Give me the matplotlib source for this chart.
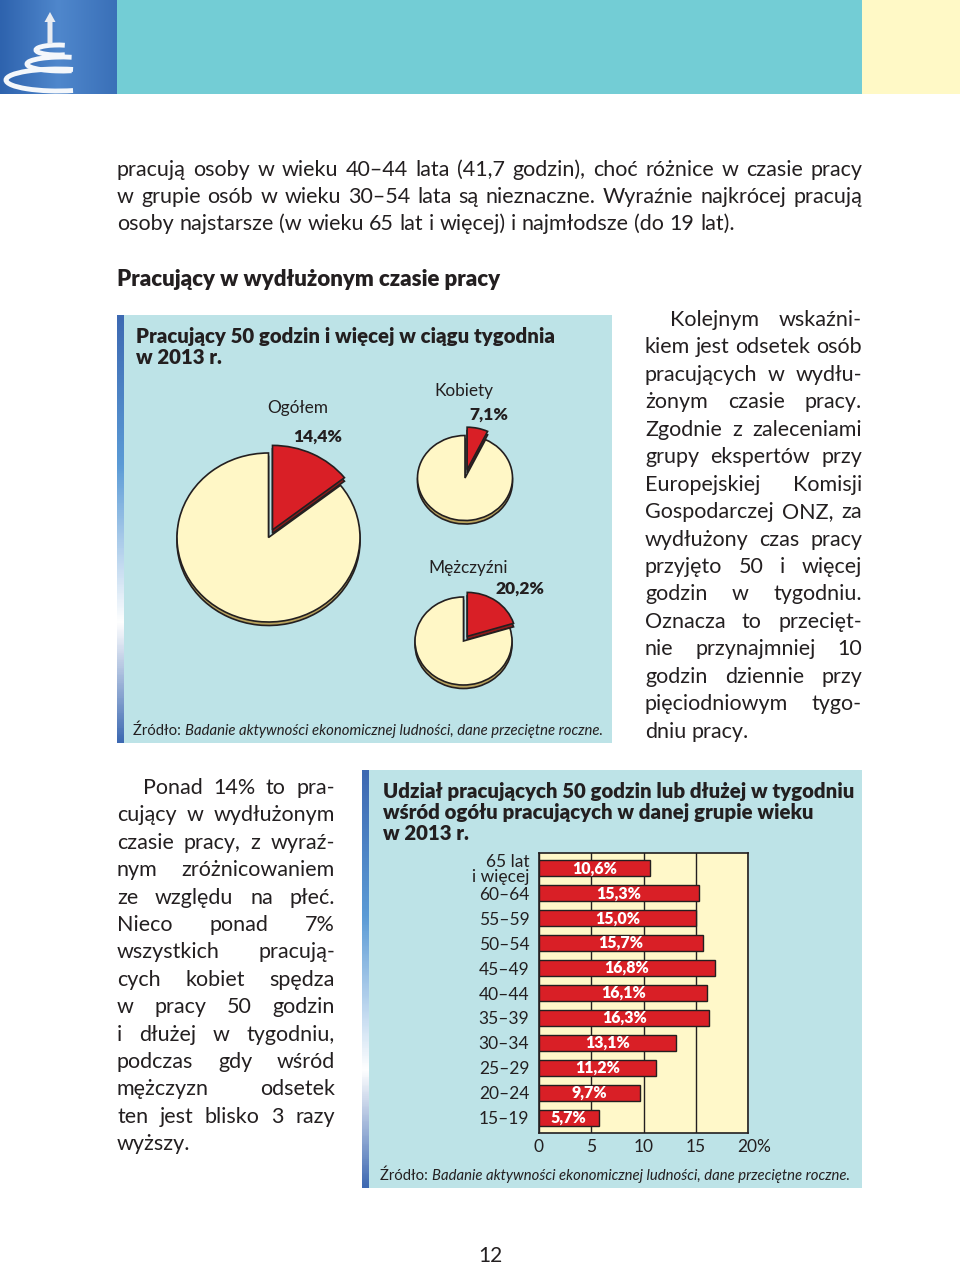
import numpy as np
import matplotlib
matplotlib.use('Agg')
import matplotlib.pyplot as plt
from matplotlib.patches import Rectangle, Arc, FancyArrow
from matplotlib.colors import LinearSegmentedColormap
from matplotlib.transforms import ScaledTranslation

W, H = 960, 1265
FONT = 'Lato'
BOLD = 'heavy'
INK = '#231F20'
RED = '#D91F26'
PALE = '#FFF7C6'
BOX = '#BDE3E7'

# --- data ---
pie_labels = ['Ogółem', 'Kobiety', 'Mężczyźni']
pie_shares = [14.4, 7.1, 20.2]

age_groups = ['65 lat\ni więcej', '60–64', '55–59', '50–54', '45–49', '40–44',
              '35–39', '30–34', '25–29', '20–24', '15–19']
long_hours_share = [10.6, 15.3, 15.0, 15.7, 16.8, 16.1, 16.3, 13.1, 11.2, 9.7, 5.7]
x_ticks = [0, 5, 10, 15, 20]
x_tick_labels = ['0', '5', '10', '15', '20%']

top_lines = [
    'pracują osoby w wieku 40–44 lata (41,7 godzin), choć różnice w czasie pracy',
    'w grupie osób w wieku 30–54 lata są nieznaczne. Wyraźnie najkrócej pracują',
    'osoby najstarsze (w wieku 65 lat i więcej) i najmłodsze (do 19 lat).',
]
right_lines = [
    'Kolejnym wskaźni-', 'kiem jest odsetek osób', 'pracujących w wydłu-',
    'żonym czasie pracy.', 'Zgodnie z zaleceniami', 'grupy ekspertów przy',
    'Europejskiej Komisji', 'Gospodarczej ONZ, za', 'wydłużony czas pracy',
    'przyjęto 50 i więcej', 'godzin w tygodniu.', 'Oznacza to przecięt-',
    'nie przynajmniej 10', 'godzin dziennie przy', 'pięciodniowym tygo-',
    'dniu pracy.',
]
left_lines = [
    'Ponad 14% to pra-', 'cujący w wydłużonym', 'czasie pracy, z wyraź-',
    'nym zróżnicowaniem', 'ze względu na płeć.', 'Nieco ponad 7%',
    'wszystkich pracują-', 'cych kobiet spędza', 'w pracy 50 godzin',
    'i dłużej w tygodniu,', 'podczas gdy wśród', 'mężczyzn odsetek',
    'ten jest blisko 3 razy', 'wyższy.',
]
heading = 'Pracujący w wydłużonym czasie pracy'
pie_title = ['Pracujący 50 godzin i więcej w ciągu tygodnia', 'w 2013 r.']
bar_title = ['Udział pracujących 50 godzin lub dłużej w tygodniu',
             'wśród ogółu pracujących w danej grupie wieku', 'w 2013 r.']
source_head = 'Źródło: '
source_body = 'Badanie aktywności ekonomicznej ludności, dane przeciętne roczne.'

fig = plt.figure(figsize=(9.6, 12.65), dpi=100)
page = fig.add_axes([0, 0, 1, 1])
page.axis('off')
renderer = fig.canvas.get_renderer()


def width_of(t):
    return t.get_window_extent(renderer).width


def put(x, y, s, size, **kw):
    kw.setdefault('color', INK)
    kw.setdefault('va', 'baseline')
    return page.text(x, y, s, fontsize=size, family=FONT, **kw)


def fit(x, y, s, width, size=12, **kw):
    t = put(x, y, s, size, **kw)
    t.set_fontsize(size * width / width_of(t))
    return t


def paragraph(lines, x0, x1, y0, step, size, indent=0):
    # justified lines, last one flush left; a line that is too long is shrunk a little
    for i, line in enumerate(lines):
        ws = line.split(' ')
        xs = x0 + (indent if i == 0 else 0)
        y = y0 + i * step
        ts = [put(0, y, s, size) for s in ws]
        widths = [width_of(t) for t in ts]
        a, b = put(0, y, 'a a', size), put(0, y, 'aa', size)
        space = width_of(a) - width_of(b)
        a.remove()
        b.remove()
        last = i == len(lines) - 1 or len(ws) == 1
        need = sum(widths) + (len(ws) - 1) * 0.6 * space
        if not last and need > x1 - xs:
            k = (x1 - xs) / need
            for t in ts:
                t.set_fontsize(size * k)
            widths = [wd * k for wd in widths]
            space *= k
        if last:
            gap = space
        else:
            gap = (x1 - xs - sum(widths)) / (len(ws) - 1)
        for t, wd in zip(ts, widths):
            t.set_x(xs)
            xs += wd + gap


def source(x, y, width):
    a = put(x, y, source_head, 10)
    b = put(x, y, source_body, 10, style='italic')
    wa, wb = width_of(a), width_of(b)
    k = width / (wa + wb)
    a.set_fontsize(10 * k)
    b.set_fontsize(10 * k)
    b.set_x(x + wa * k)


def stripe(x, y, w, h):
    cmap = LinearSegmentedColormap.from_list(
        's', [(0, '#3D69B2'), (0.35, '#5B9BD6'), (0.72, '#FFFFFF'), (1, '#3D69B2')])
    page.imshow(np.linspace(0, 1, 200)[:, None], cmap=cmap, aspect='auto',
                extent=(x, x + w, y + h, y), zorder=2)


# header band
page.add_patch(Rectangle((117, 0), 745, 94, color='#73CDD5', lw=0))
page.add_patch(Rectangle((862, 0), 98, 94, color='#FFF9C6', lw=0))
hcmap = LinearSegmentedColormap.from_list('h', ['#2E63AE', '#4F87CC', '#3A70B8'])
page.imshow(np.linspace(0, 1, 100)[None, :], cmap=hcmap, aspect='auto',
            extent=(0, 117, 94, 0), zorder=1)
for (cx, cy, aw, ah) in [(58, 80, 104, 22), (62, 64, 70, 14), (58, 50, 44, 10)]:
    page.add_patch(Arc((cx, cy), aw, ah, theta1=35, theta2=325, color='#F4F7FB', lw=3.5, zorder=3))
page.add_patch(FancyArrow(50, 44, 0, -22, width=5, head_width=11, head_length=10,
                          color='#E8ECF2', lw=0, zorder=3))

# body text
paragraph(top_lines, 117, 862, 176, 27, 15.5)
fit(117, 286, heading, 383, weight=BOLD)
paragraph(right_lines, 645, 862, 326, 27.45, 15.5, indent=25)
paragraph(left_lines, 117, 335, 794, 27.4, 15.5, indent=26)
put(490, 1262, '12', 15, ha='center')

# pie box
page.add_patch(Rectangle((117, 315), 495, 428, color=BOX, lw=0, zorder=1))
stripe(117, 315, 6.5, 428)
t = fit(136, 343, pie_title[0], 416, weight=BOLD)
put(136, 364, pie_title[1], t.get_fontsize(), weight=BOLD)
source(133, 735, 472)

reg = fit(298, 413, pie_labels[0], 61, ha='center')
rs = reg.get_fontsize()
put(464, 396, pie_labels[1], rs, ha='center')
put(468, 573, pie_labels[2], rs, ha='center')
bold = fit(318, 442, f'{pie_shares[0]:.1f}%'.replace('.', ','), 49, ha='center', weight=BOLD)
bs = bold.get_fontsize()
put(489, 420, f'{pie_shares[1]:.1f}%'.replace('.', ','), bs, ha='center', weight=BOLD)
put(520, 594, f'{pie_shares[2]:.1f}%'.replace('.', ','), bs, ha='center', weight=BOLD)


def draw_pie(cx, cy, rx, ry, share, explode):
    ax = fig.add_axes([(cx - 1.3 * rx) / W, 1 - (cy + 1.3 * ry) / H, 2.6 * rx / W, 2.6 * ry / H])
    vals = [share, 100 - share]
    kw = dict(explode=[explode, 0], startangle=90, counterclock=False,
              wedgeprops=dict(edgecolor=INK, linewidth=1.2))
    ax.pie(vals, colors=['#8E1A1A', '#B9A35E'], center=(0, -3.5 / ry), **kw)
    ax.pie(vals, colors=[RED, PALE], **kw)
    ax.set_aspect('auto')
    ax.set_xlim(-1.3, 1.3)
    ax.set_ylim(-1.3, 1.3)
    ax.axis('off')


draw_pie(268.5, 537.5, 91.5, 84.5, pie_shares[0], 0.1)
draw_pie(465, 478, 47.5, 42.5, pie_shares[1], 0.2)
draw_pie(463.5, 641, 48.5, 44, pie_shares[2], 0.13)

# bar box
page.add_patch(Rectangle((362, 770), 500, 418, color=BOX, lw=0, zorder=1))
stripe(362, 770, 7, 418)
t = fit(383, 798, bar_title[0], 470, weight=BOLD)
for i, s in enumerate(bar_title[1:]):
    put(383, 819 + 21 * i, s, t.get_fontsize(), weight=BOLD)
source(380, 1180, 472)

bx = fig.add_axes([539 / W, 1 - 1133 / H, 209 / W, 280 / H])
bx.set_facecolor('#FFF8C9')
bx.set_axisbelow(True)
y = np.arange(len(age_groups))
bx.barh(y, long_hours_share, height=0.64, color=RED, edgecolor=INK, lw=1, zorder=3)
for yi, v in zip(y, long_hours_share):
    bx.text(v / 2, yi, f'{v:.1f}%'.replace('.', ','), ha='center', va='center',
            color='white', weight=BOLD, fontsize=11.5, family=FONT, zorder=4)
bx.set_xlim(0, 20)
bx.set_ylim(len(y) - 1 + 0.62, -0.62)
bx.set_xticks(x_ticks, x_tick_labels)
bx.set_yticks(y, age_groups)
bx.xaxis.grid(True, color=INK, lw=1)
bx.tick_params(length=0, labelsize=12.5, labelcolor=INK)
bx.tick_params(axis='x', pad=4)
bx.tick_params(axis='y', pad=7)
for lab in bx.get_xticklabels() + bx.get_yticklabels():
    lab.set_family(FONT)
bx.get_yticklabels()[0].set_linespacing(0.9)
last = bx.get_xticklabels()[-1]
last.set_transform(last.get_transform() + ScaledTranslation(0.06, 0, fig.dpi_scale_trans))
for sp in bx.spines.values():
    sp.set_color(INK)
    sp.set_linewidth(1.2)

page.set_xlim(0, W)
page.set_ylim(H, 0)
fig.savefig('out.png', dpi=100)
